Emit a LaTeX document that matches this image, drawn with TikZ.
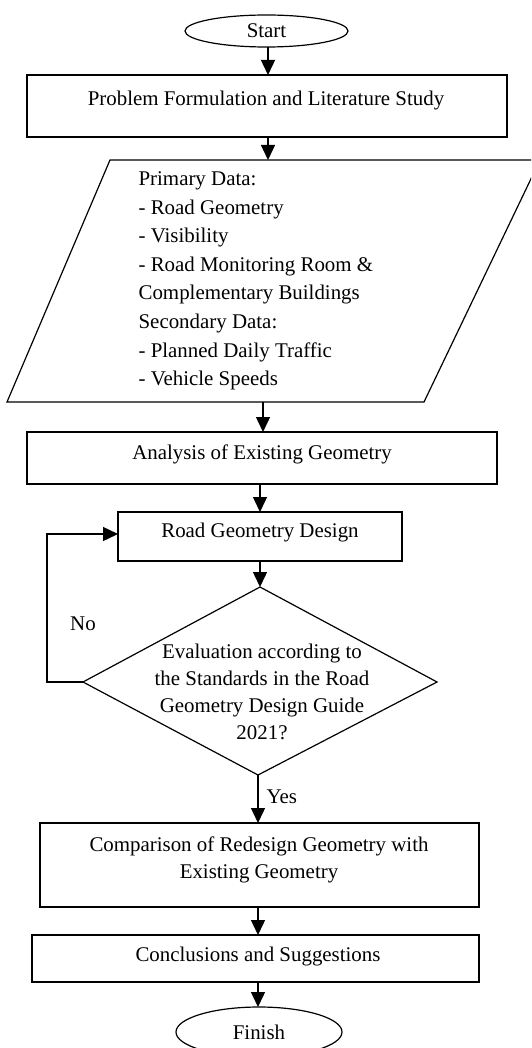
\documentclass[tikz,border=0pt]{standalone}
\usepackage{fontspec}
\setmainfont{Liberation Serif}
\usetikzlibrary{arrows.meta}
\begin{document}
\begin{tikzpicture}[x=1pt,y=-1pt,
  line width=1.2pt,
  txt/.style={font=\fontsize{20.9}{28}\selectfont, inner sep=0pt},
  arr/.style={-{Triangle[length=15pt,width=14pt]}, line width=1.4pt},
  boxst/.style={draw, line width=1.2pt}]
\useasboundingbox (0,0) rectangle (531,1048);
\clip (0,0) rectangle (531,1048);
% Start
\draw[line width=1.2pt] (266.5,31) ellipse [x radius=81.5, y radius=16];
\node[txt] (start) at (266.5,31) {Start};
\coordinate (startB) at (268,47);
% Problem box
\draw[boxst] (27,75) rectangle (507,137);
\node[txt] (prob) at (266,101) {Problem Formulation and Literature Study};
\coordinate (probT) at (268,75);
\coordinate (probB) at (268,137);
% parallelogram
\draw[boxst] (110,160) -- (540,160) -- (424,402) -- (7,402) -- cycle;
\coordinate (parT) at (268,160);
\coordinate (parB) at (263,402);
\node[txt, anchor=north west, align=left, font=\fontsize{20.9}{28.6}\selectfont] (data) at (138,171) {Primary Data:\\- Road Geometry\\- Visibility\\- Road Monitoring Room \&\\Complementary Buildings\\Secondary Data:\\- Planned Daily Traffic\\- Vehicle Speeds};
% Analysis
\draw[boxst] (27,432) rectangle (497,484);
\node[txt] (anal) at (262,454) {Analysis of Existing Geometry};
\coordinate (analT) at (263,432);
\coordinate (analB) at (260,484);
% Road Geometry Design
\draw[boxst] (118,512) rectangle (402,561);
\node[txt] (rgd) at (260,533) {Road Geometry Design};
\coordinate (rgdT) at (260,512);
\coordinate (rgdB) at (260,561);
\coordinate (rgdL) at (118,534);
% Diamond
\draw[boxst] (260,587) -- (437,682) -- (258,775) -- (83,682) -- cycle;
\coordinate (diaT) at (260,587);
\coordinate (diaL) at (83,682);
\coordinate (diaB) at (258,775);
\node[txt, align=center, font=\fontsize{20.9}{27}\selectfont] (eval) at (262,692) {Evaluation according to\\the Standards in the Road\\Geometry Design Guide\\2021?};
\coordinate (loopA) at (47,682);
\coordinate (loopB) at (47,534);
\node[txt] (no) at (83,624) {No};
\node[txt, anchor=west] (yes) at (266,797) {Yes};
% Comparison
\draw[boxst] (40,823) rectangle (479,907);
\node[txt, align=center, font=\fontsize{20.9}{27.5}\selectfont] (comp) at (259,860) {Comparison of Redesign Geometry with\\Existing Geometry};
\coordinate (compT) at (258,823);
\coordinate (compB) at (258,907);
% Conclusions
\draw[boxst] (32,935) rectangle (479,982);
\node[txt] (conc) at (258,956) {Conclusions and Suggestions};
\coordinate (concT) at (258,935);
\coordinate (concB) at (258,982);
% Finish
\draw[line width=1.2pt] (259,1032) ellipse [x radius=83, y radius=25];
\node[txt] (fin) at (259,1032) {Finish};
\coordinate (finT) at (258,1007);
% arrows
\draw[arr] (startB) -- (probT);
\draw[arr] (probB) -- (parT);
\draw[arr] (parB) -- (analT);
\draw[arr] (analB) -- (rgdT);
\draw[arr] (rgdB) -- (diaT);
\draw[arr] (diaL) -- (loopA) -- (loopB) -- (rgdL);
\draw[arr] (diaB) -- (compT);
\draw[arr] (compB) -- (concT);
\draw[arr] (concB) -- (finT);
\end{tikzpicture}
\end{document}
